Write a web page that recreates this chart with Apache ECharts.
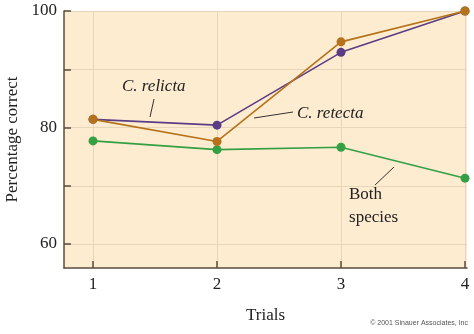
<!DOCTYPE html>
<html><head><meta charset="utf-8">
<script src="https://cdn.jsdelivr.net/npm/echarts@6/dist/echarts.min.js"></script>
<style>html,body{margin:0;padding:0;background:#fff}#c{width:474px;height:334px}</style>
</head><body><div id="c"></div>
<script>
const trials = [1, 2, 3, 4];
const xTicks = [1, 2, 3, 4];
const yTicks = [60, 70, 80, 90, 100];
const yLabels = [60, 80, 100];
const relicta = [81.4, 80.4, 92.9, 100];   // purple
const retecta = [81.4, 77.6, 94.7, 100];   // orange
const both = [77.7, 76.2, 76.6, 71.3];     // green

const SERIF = '"Liberation Serif", "DejaVu Serif", serif';
const chart = echarts.init(document.getElementById('c'), null, {renderer: 'canvas'});
const pair = arr => trials.map((t, i) => [t, arr[i]]);
const ser = (name, data, color) => ({
  name, type: 'line', data: pair(data), symbol: 'circle', symbolSize: 9,
  lineStyle: {color, width: 1.6}, itemStyle: {color}, z: 3, animation: false
});
chart.setOption({
  animation: false,
  grid: {left: 64, right: 7, top: 11, bottom: 66, outerBoundsMode: 'none', containLabel: false,
         show: true, backgroundColor: '#fdecd0', borderWidth: 0},
  xAxis: {
    type: 'value', min: 0.766, max: 4.016,
    axisLine: {lineStyle: {color: '#5a4c3e', width: 1.5}},
    axisTick: {inside: true, length: 7, customValues: xTicks, lineStyle: {color: '#5a4c3e', width: 1.5}},
    axisLabel: {customValues: xTicks, margin: 8, fontFamily: SERIF, fontSize: 17, color: '#222'},
    splitLine: {show: true, lineStyle: {color: '#e8d6bb', width: 1}},
    name: 'Trials', nameLocation: 'middle', nameGap: 39,
    nameTextStyle: {fontFamily: SERIF, fontSize: 17, color: '#222'}
  },
  yAxis: {
    type: 'value', min: 55.88, max: 100,
    axisLine: {show: true, lineStyle: {color: '#5a4c3e', width: 1.5}},
    axisTick: {show: true, inside: true, length: 7, customValues: yTicks, lineStyle: {color: '#5a4c3e', width: 1.5}},
    axisLabel: {customValues: yLabels, margin: 7, fontFamily: SERIF, fontSize: 17, color: '#222'},
    splitLine: {show: true, lineStyle: {color: '#e8d6bb', width: 1}},
    name: 'Percentage correct', nameLocation: 'middle', nameGap: 36,
    nameTextStyle: {fontFamily: SERIF, fontSize: 17, color: '#222'}
  },
  series: [
    ser('Both species', both, '#34a043'),
    ser('C. relicta', relicta, '#5b3d86'),
    ser('C. retecta', retecta, '#b5721b')
  ]
});

// annotations positioned in data space
const px = (x, y) => chart.convertToPixel({gridIndex: 0}, [x, y]);
const dx = p => 1 + (p - 93) / 124;
const dy = p => 100 - (p - 11) / 5.825;
const line = (a, b) => {
  const p1 = px(dx(a[0]), dy(a[1])), p2 = px(dx(b[0]), dy(b[1]));
  return {type: 'line', shape: {x1: p1[0], y1: p1[1], x2: p2[0], y2: p2[1]}, style: {stroke: '#333', lineWidth: 1}, z: 10};
};
const text = (t, x, y, style) => {
  const p = px(dx(x), dy(y));
  return {type: 'text', x: p[0], y: p[1], style: Object.assign({text: t, fontFamily: SERIF, fontSize: 17, fill: '#222', textVerticalAlign: 'middle'}, style), z: 10};
};
chart.setOption({
  graphic: [
    text('C. relicta', 122, 87, {fontStyle: 'italic'}),
    line([154, 99], [150, 117]),
    text('C. retecta', 297, 114, {fontStyle: 'italic'}),
    line([293, 112], [254, 118]),
    text('Both', 349, 195, {}),
    text('species', 349, 218, {}),
    line([394, 167], [375, 185]),
    {type: 'text', right: 6, top: 320, style: {text: '\u00a9 2001 Sinauer Associates, Inc', fontFamily: '"Liberation Sans", sans-serif', fontSize: 7, fill: '#555'}}
  ]
});
</script></body></html>
